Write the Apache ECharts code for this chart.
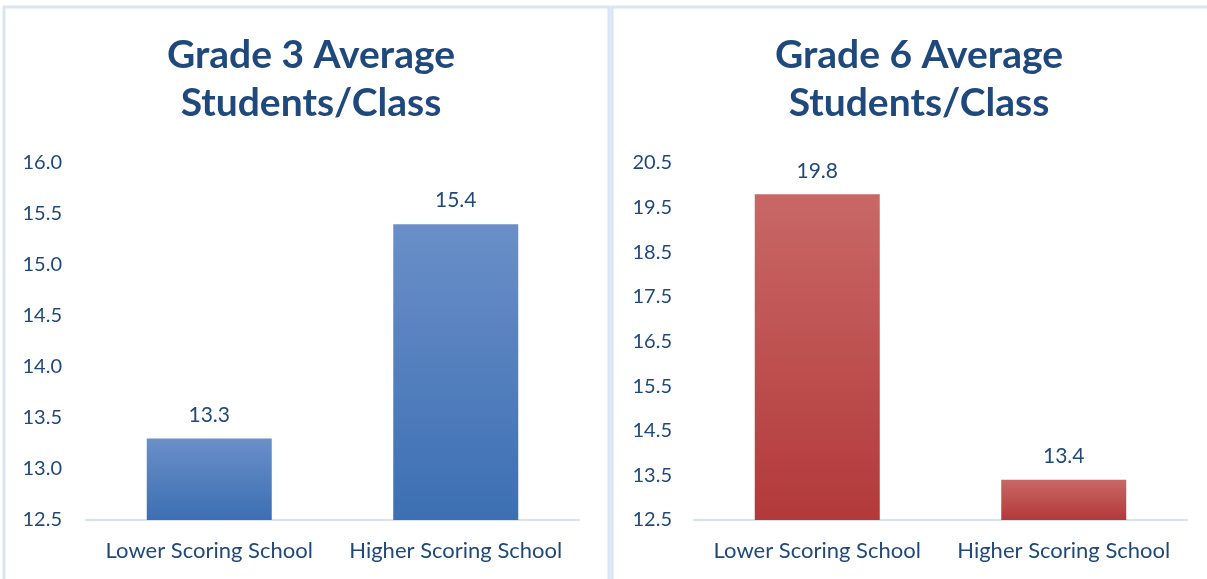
<!DOCTYPE html>
<html>
<head>
<meta charset="utf-8">
<script src="https://cdn.jsdelivr.net/npm/echarts@6/dist/echarts.min.js"></script>
<style>
  html, body { margin: 0; padding: 0; background: #fff; }
  #chart { width: 1207px; height: 579px; }
</style>
</head>
<body>
<div id="chart"></div>
<script>
// data
const categories = ["Lower Scoring School", "Higher Scoring School"];
const grade3Values = [13.3, 15.4];
const grade6Values = [19.8, 13.4];
const grade3Title = "Grade 3 Average\nStudents/Class";
const grade6Title = "Grade 6 Average\nStudents/Class";

const textColor = "#1f497d";
const fontFam = "Lato, 'Open Sans', sans-serif";

const blueFill = new echarts.graphic.LinearGradient(0, 0, 0, 1, [
  { offset: 0, color: "#6a8fc8" },
  { offset: 1, color: "#3c6fb3" }
]);
const redFill = new echarts.graphic.LinearGradient(0, 0, 0, 1, [
  { offset: 0, color: "#c86866" },
  { offset: 1, color: "#b3393a" }
]);

const chart = echarts.init(document.getElementById("chart"));

function yAxis(idx, max, everyOther) {
  return {
    type: "value",
    gridIndex: idx,
    min: 12.5,
    max: max,
    interval: 0.5,
    axisLine: { show: false },
    axisTick: { show: false },
    splitLine: { show: false },
    axisLabel: {
      color: textColor,
      fontSize: 20,
      fontFamily: fontFam,
      margin: idx === 0 ? 24 : 22,
      formatter: (v) => {
        if (everyOther && Math.abs(((v - 12.5) % 1)) > 0.01) return "";
        return v.toFixed(1);
      }
    }
  };
}

function xAxis(idx) {
  return {
    type: "category",
    gridIndex: idx,
    data: categories,
    axisTick: { show: false },
    axisLine: { lineStyle: { color: "#d9e2f1", width: 2 } },
    axisLabel: {
      color: textColor,
      fontSize: 22,
      fontFamily: fontFam,
      interval: 0,
      margin: 20
    }
  };
}

function barSeries(idx, values, fill) {
  return {
    type: "bar",
    xAxisIndex: idx,
    yAxisIndex: idx,
    data: values,
    barWidth: 125,
    itemStyle: { color: fill },
    label: {
      show: true,
      position: "top",
      distance: 13,
      color: textColor,
      fontSize: 21,
      fontFamily: fontFam,
      formatter: (p) => p.value.toFixed(1)
    }
  };
}

const titleStyle = {
  color: textColor,
  fontSize: 39,
  fontWeight: "bold",
  fontFamily: fontFam,
  lineHeight: 48
};

chart.setOption({
  animation: false,
  title: [
    { text: grade3Title, left: 306, top: 26, textAlign: "center", textStyle: titleStyle },
    { text: grade6Title, left: 914, top: 26, textAlign: "center", textStyle: titleStyle }
  ],
  graphic: [
    { type: "rect", shape: { x: 4, y: 7, width: 605, height: 620 },
      style: { fill: "none", stroke: "#dae5f4", lineWidth: 3 }, z: -1 },
    { type: "rect", shape: { x: 612, y: 7, width: 620, height: 620 },
      style: { fill: "none", stroke: "#dae5f4", lineWidth: 3 }, z: -1 }
  ],
  grid: [
    { left: 86, top: 163, width: 493, height: 357 },
    { left: 694, top: 163, width: 493, height: 357 }
  ],
  xAxis: [xAxis(0), xAxis(1)],
  yAxis: [yAxis(0, 16, false), yAxis(1, 20.5, true)],
  series: [
    barSeries(0, grade3Values, blueFill),
    barSeries(1, grade6Values, redFill)
  ]
});
</script>
</body>
</html>
